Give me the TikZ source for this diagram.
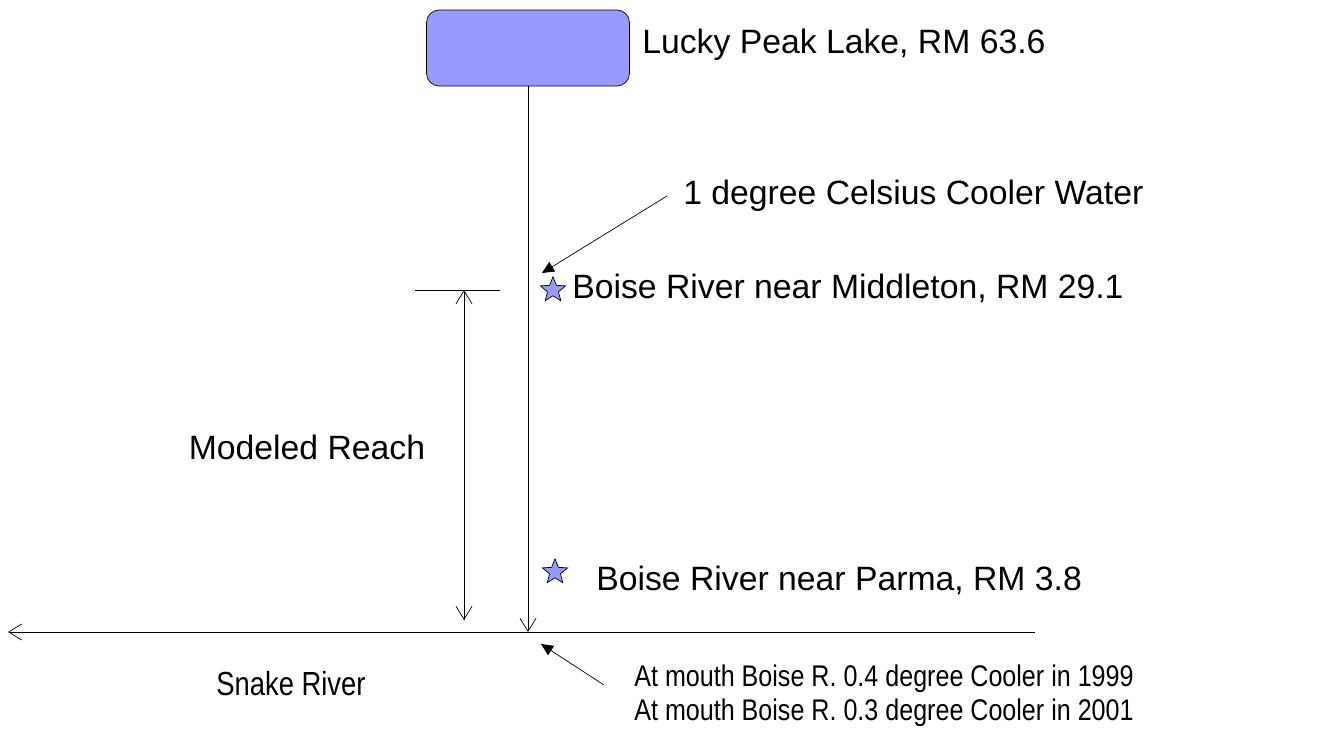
\documentclass[tikz,border=0pt]{standalone}
\usepackage{fontspec}
\setmainfont{Liberation Sans}
\usetikzlibrary{positioning,shapes.geometric,arrows.meta}
\definecolor{lakeblue}{HTML}{9999FF}
\newcommand{\narrow}[1]{\scalebox{0.84}[1]{#1}}
\tikzset{
  open/.style={-{Straight Barb[length=2.6mm, width=3.2mm]}},
  solid tip/.style={-{Triangle[length=2.4mm, width=2.2mm]}},
  lake/.style={draw, fill=lakeblue, rounded corners=2.5mm, minimum width=4.06cm,
               minimum height=1.52cm},
  gauge/.style={draw, fill=lakeblue, star, star points=5, star point ratio=2.3,
                minimum size=5.3mm, inner sep=0pt},
  label/.style={anchor=west, inner sep=0pt},
  note/.style={label, font=\fontsize{17}{20}\selectfont},
}

\begin{document}
\begin{tikzpicture}[x=0.02cm, y=-0.02cm, font=\fontsize{19.2}{22}\selectfont]
    \useasboundingbox (0,0) rectangle (1318,732);
    % reservoir and river
    \node[lake] (lake) at (528,48) {};
    \node[label] (lakelbl) at (642,45) {Lucky Peak Lake, RM 63.6};
    \coordinate (mouth) at (528,632);
    \coordinate (east) at (1035,632);
    \coordinate (west) at (8,632);
    \draw[open] (lake.south) -- (mouth);
    \draw[open] (east) -- (west);
    \node (snake) at (291,684) {\fontsize{19}{22}\selectfont\scalebox{0.82}[1]{Snake River}};
    % gauges
    \node[gauge] (middleton) at (553,290) {};
    \node[gauge] (parma) at (555,572) {};
    \node[label] (midlbl) at (572,288) {Boise River near Middleton, RM 29.1};
    \node[label] (parlbl) at (596,580) {Boise River near Parma, RM 3.8};
    % modeled reach
    \coordinate (tickL) at (415,290);
    \coordinate (tickR) at (500,290);
    \coordinate (top) at (464,290);
    \coordinate (bottom) at (464,620);
    \draw (tickL) -- (tickR);
    \draw[open] (top) -- (bottom);
    \draw[open] (bottom) -- (top);
    \node (reach) at (307,447) {Modeled Reach};
    % temperature notes
    \node[label] (cooler) at (683,196) {1 degree Celsius Cooler Water};
    \coordinate (coolA) at (667,196);
    \coordinate (coolB) at (542,273);
    \draw[solid tip] (coolA) -- (coolB);
    \node[note] (note1) at (634,679) {\narrow{At mouth Boise R. 0.4 degree Cooler in 1999}};
    \node[note] (note2) at (634,713) {\narrow{At mouth Boise R. 0.3 degree Cooler in 2001}};
    \coordinate (noteA) at (604,685);
    \coordinate (noteB) at (541,644);
    \draw[solid tip] (noteA) -- (noteB);
\end{tikzpicture}
\end{document}
